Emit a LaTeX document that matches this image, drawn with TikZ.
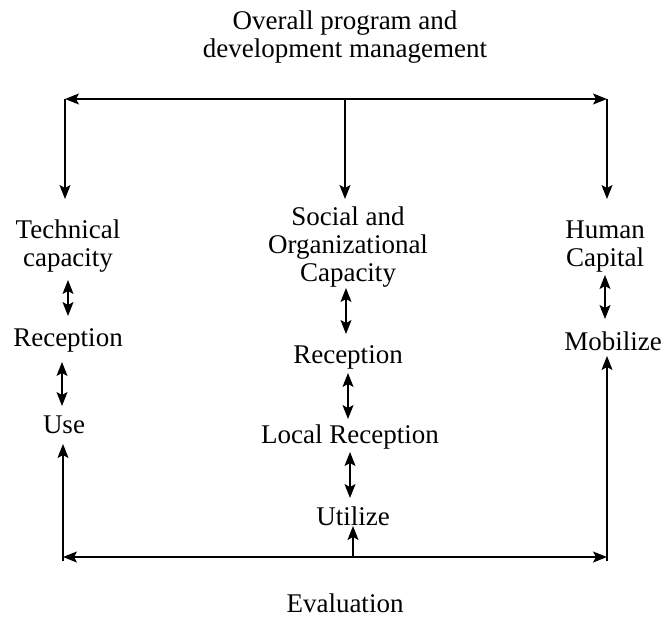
\documentclass[tikz,border=0pt]{standalone}
\usepackage{fontspec}
\setmainfont{Liberation Serif}
\usetikzlibrary{arrows.meta}
\begin{document}
\begin{tikzpicture}[x=1pt,y=-1pt,
 lbl/.style={inner sep=0pt,align=center,font=\fontsize{27}{28}\selectfont},
 tip/.style={-{Stealth[length=14pt,width=11pt,inset=3pt]}},
 both/.style={{Stealth[length=14pt,width=11pt,inset=3pt]}-{Stealth[length=14pt,width=11pt,inset=3pt]}},
 line width=1.1pt]
\useasboundingbox (0,0) rectangle (664,618);
% title
\node[lbl] (title) at (345,37) {Overall program and\\development management};
% left column
\node[lbl] (tc) at (68,246) {Technical\\capacity};
\node[lbl] (rc1) at (68,340) {Reception};
\node[lbl] (use) at (64,425) {Use};
% middle column
\node[lbl] (soc) at (348,247) {Social and\\Organizational\\Capacity};
\node[lbl] (rc2) at (348,357) {Reception};
\node[lbl] (loc) at (350,437) {Local Reception};
\node[lbl] (ut) at (353,516) {Utilize};
% right column
\node[lbl] (hc) at (605,247) {Human\\Capital};
\node[lbl] (mob) at (613,341) {Mobilize};
% evaluation
\node[lbl] (eval) at (345,603) {Evaluation};
% top bar
\coordinate (tl) at (65,99);
\coordinate (tm) at (345,99);
\coordinate (tr) at (607,99);
\draw[both] (tl) -- (tr);
\draw[tip] (tl) -- (65,199);
\draw[tip,line width=1.8pt] (tm) -- (345,199);
\draw[tip] (tr) -- (607,199);
% bottom bar
\coordinate (bl) at (63,557);
\coordinate (bm) at (353,557);
\coordinate (br) at (607,557);
\draw[both] (bl) -- (br);
\draw (63,561) -- (bl);
\draw (607,561) -- (br);
\draw[tip] (bl) -- (63,444);
\draw[tip] (bm) -- (353,526);
\draw[tip] (br) -- (607,356);
% vertical double arrows
\draw[both] (68,280) -- (68,316);
\draw[both] (62,362) -- (62,406);
\draw[both] (346,288) -- (346,334);
\draw[both] (348,373) -- (348,419);
\draw[both] (350,452) -- (350,498);
\draw[both] (605,275) -- (605,319);
\end{tikzpicture}
\end{document}
